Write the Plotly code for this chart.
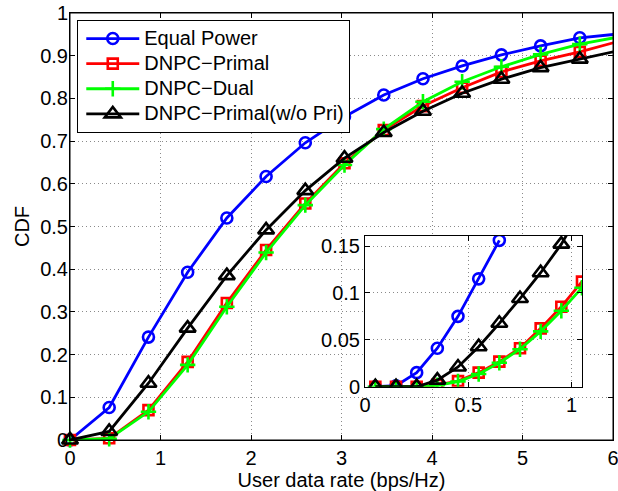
import plotly.graph_objects as go

# ---- data ----
rate = [0, 0.433, 0.867, 1.3, 1.733, 2.167, 2.6, 3.033, 3.467, 3.9, 4.333, 4.767, 5.2, 5.633, 6.067]
equal_power = [0, 0.076, 0.241, 0.393, 0.520, 0.617, 0.696, 0.757, 0.808, 0.846, 0.876, 0.902, 0.923, 0.942, 0.951]
dnpc_primal = [0, 0.004, 0.070, 0.183, 0.321, 0.445, 0.554, 0.648, 0.726, 0.782, 0.825, 0.862, 0.888, 0.909, 0.934]
dnpc_dual = [0, 0.003, 0.066, 0.176, 0.312, 0.439, 0.550, 0.644, 0.728, 0.792, 0.839, 0.874, 0.903, 0.927, 0.944]
dnpc_nopri = [0, 0.020, 0.133, 0.262, 0.385, 0.492, 0.584, 0.660, 0.720, 0.770, 0.812, 0.845, 0.872, 0.892, 0.912]

inset_rate = [0.05, 0.15, 0.25, 0.35, 0.45, 0.55, 0.65, 0.75, 0.85, 0.95, 1.05]
inset_equal = [0, 0.001, 0.015, 0.041, 0.075, 0.115, 0.156]
inset_primal = [0, 0, 0, 0.002, 0.006, 0.015, 0.0267, 0.041, 0.0622, 0.0853, 0.112]
inset_dual = [0, 0, 0, 0.0015, 0.0055, 0.0135, 0.0256, 0.040, 0.0590, 0.0810, 0.1055]
inset_nopri = [0, 0, 0, 0.007, 0.021, 0.0426, 0.0676, 0.094, 0.1215, 0.152, 0.19]

names = ["Equal Power", "DNPC\u2212Primal", "DNPC\u2212Dual", "DNPC\u2212Primal(w/o Pri)"]
x_ticks = [0, 1, 2, 3, 4, 5, 6]
y_ticks = [0, 0.1, 0.2, 0.3, 0.4, 0.5, 0.6, 0.7, 0.8, 0.9, 1]
inset_x_ticks = [0, 0.5, 1]
inset_y_ticks = [0, 0.05, 0.1, 0.15]

colors = ["#0000FF", "#FF0000", "#00FF00", "#000000"]
symbols = ["circle-open", "square-open", "cross-thin-open", "triangle-up-open"]
msizes = [11, 10, 11, 14]

FONT = "Liberation Sans, Arial, sans-serif"

fig = go.Figure()
main_series = [equal_power, dnpc_primal, dnpc_dual, dnpc_nopri]
for name, ys, c, s, ms in zip(names, main_series, colors, symbols, msizes):
    fig.add_trace(go.Scatter(
        x=rate, y=ys, mode="lines+markers",
        name='<span style="font-size:20px">' + name + '</span>',
        line=dict(color=c, width=2.8),
        marker=dict(symbol=s, size=ms, color=c, line=dict(color=c, width=2.6)),
        cliponaxis=False, xaxis="x", yaxis="y"))

inset_series = [inset_equal, inset_primal, inset_dual, inset_nopri]
for name, ys, c, s, ms in zip(names, inset_series, colors, symbols, msizes):
    fig.add_trace(go.Scatter(
        x=inset_rate[:len(ys)], y=ys, mode="lines+markers", name=name, showlegend=False,
        line=dict(color=c, width=2.8),
        marker=dict(symbol=s, size=ms, color=c, line=dict(color=c, width=2.6)),
        cliponaxis=True, xaxis="x2", yaxis="y2"))

# white background for the inset (drawn in the inset subplot layer, above main grid)
fig.add_shape(type="rect", xref="x2", yref="y2", x0=0, x1=1.05, y0=0, y1=0.161,
              fillcolor="white", line=dict(width=0), layer="below")
# box around the main axes (paper = main plot area)
fig.add_shape(type="rect", xref="paper", yref="paper", x0=0, x1=1, y0=0, y1=1,
              line=dict(color="black", width=1), fillcolor="rgba(0,0,0,0)", layer="above")

axis_common = dict(
    showline=True, linecolor="black", linewidth=1, mirror="ticks",
    ticks="inside", ticklen=5, tickcolor="black", tickwidth=1,
    showgrid=True, gridcolor="#8a8a8a", gridwidth=1, griddash="1px,3px",
    zeroline=False, tickfont=dict(family=FONT, size=20, color="black"),
    ticklabeloverflow="allow",
)

fig.update_layout(
    width=618, height=491,
    margin=dict(l=70, r=5, t=13, b=51, autoexpand=False),
    paper_bgcolor="white", plot_bgcolor="white",
    font=dict(family=FONT, size=20, color="black"),
    xaxis=dict(range=[0, 6], tickvals=x_ticks, domain=[0, 1],
               title=dict(text="User data rate (bps/Hz)", font=dict(size=20), standoff=4),
               automargin=False, **axis_common),
    yaxis=dict(range=[0, 1], tickvals=y_ticks, domain=[0, 1],
               title=dict(text="CDF", font=dict(size=20), standoff=5),
               automargin=False, ticklabelstandoff=-3, **axis_common),
    xaxis2=dict(range=[0, 1.05], tickvals=inset_x_ticks, domain=[0.5433, 0.9429],
                anchor="y2", automargin=False, **axis_common),
    yaxis2=dict(range=[0, 0.161], tickvals=inset_y_ticks, domain=[0.1248, 0.4785],
                anchor="x2", automargin=False, **axis_common),
    legend=dict(x=0.0134, y=0.9836, xanchor="left", yanchor="top",
                bgcolor="white", bordercolor="black", borderwidth=1,
                font=dict(family=FONT, size=17, color="black"),
                itemwidth=53, indentation=3, tracegroupgap=0),
    showlegend=True,
)

# remove the default 8px page margin so the figure fills the window exactly
fig.write_html("out.html",
               config={"displayModeBar": False, "staticPlot": True},
               post_script="document.body.style.margin='0px';document.body.style.overflow='hidden';")
